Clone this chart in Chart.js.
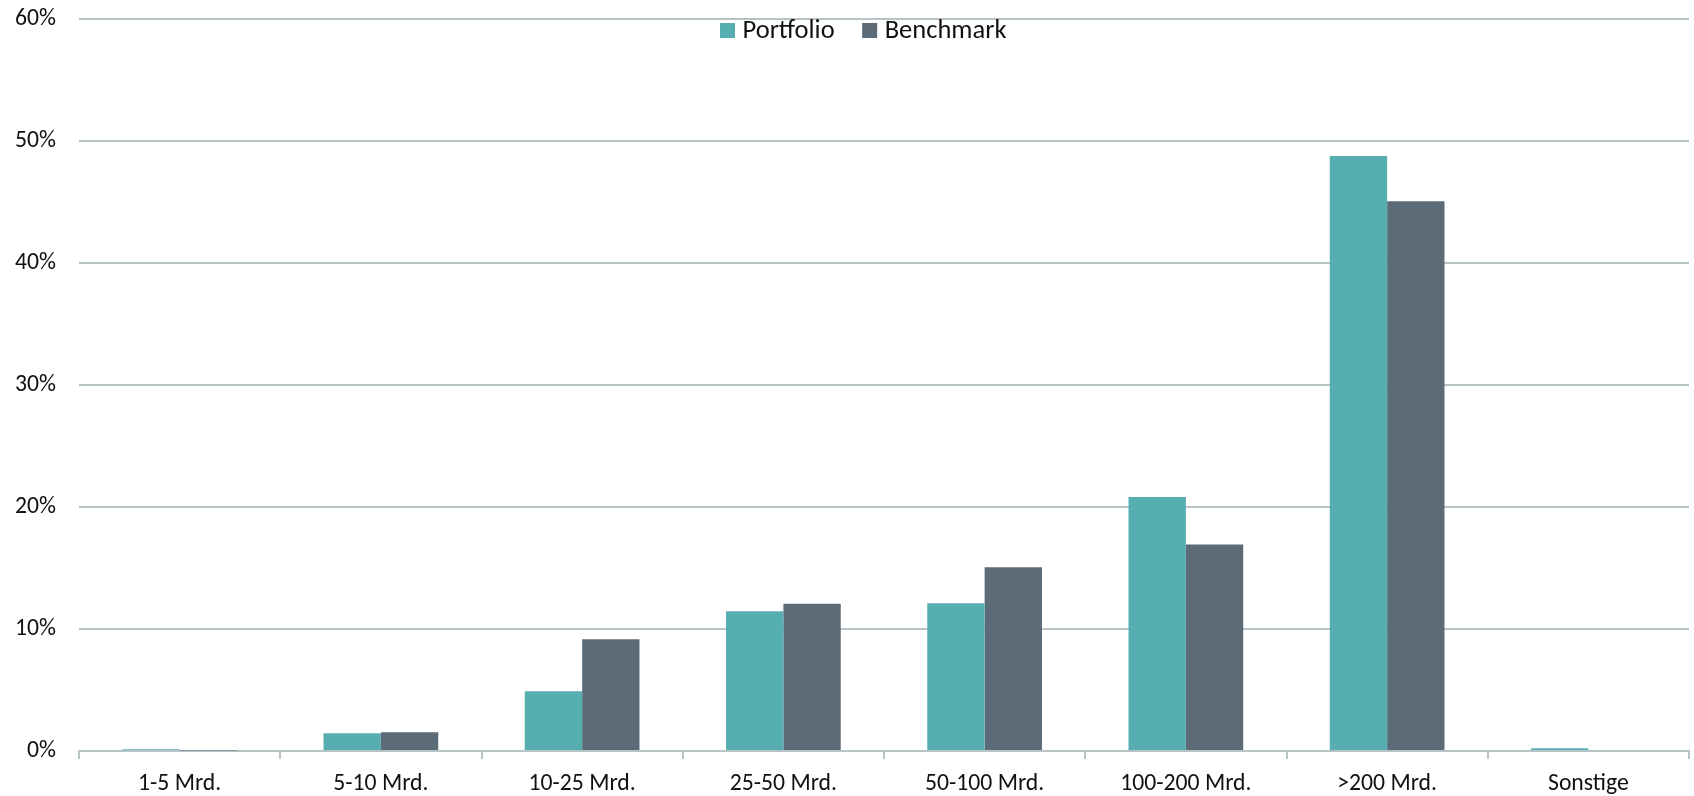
<!DOCTYPE html>
<html lang="de">
<head>
<meta charset="utf-8">
<title>Marktkapitalisierung – Portfolio vs. Benchmark</title>
<script src="https://cdn.jsdelivr.net/npm/chart.js@4/dist/chart.umd.min.js"></script>
<style>
  html, body { margin: 0; padding: 0; background: #ffffff; }
  #wrap { width: 1694px; height: 796px; position: relative; }
</style>
</head>
<body>
<div id="wrap"><canvas id="chart" width="1694" height="796"></canvas></div>
<script>
// Marktkapitalisierungs-Klassen
const categories = ['1-5 Mrd.', '5-10 Mrd.', '10-25 Mrd.', '25-50 Mrd.', '50-100 Mrd.', '100-200 Mrd.', '>200 Mrd.', 'Sonstige'];
// Gewichte in %
const portfolio = [0.14, 1.45, 4.89, 11.45, 12.12, 20.82, 48.77, 0.22];
const benchmark = [0.05, 1.53, 9.15, 12.07, 15.06, 16.93, 45.07, 0.0];
const seriesNames = ['Portfolio', 'Benchmark'];
const yTicks = [0, 10, 20, 30, 40, 50, 60];

const COLORS = ['#57aeb0', '#5b6c78'];
const GRID = '#b8c3c5';
const FONT = 'Carlito, Calibri, Lato, sans-serif';
const TEXT = '#111111';

// Legende oben im Diagrammbereich
const topLegend = {
  id: 'topLegend',
  afterDraw(chart) {
    const ctx = chart.ctx;
    ctx.save();
    ctx.font = '26.5px ' + FONT;
    ctx.textBaseline = 'alphabetic';
    let x = 720;
    chart.data.datasets.forEach((ds) => {
      ctx.fillStyle = ds.backgroundColor;
      ctx.fillRect(x, 23, 15, 15);
      x += 15 + 7.5;
      ctx.fillStyle = TEXT;
      ctx.fillText(ds.label, x, 37.5);
      x += ctx.measureText(ds.label).width + 27.5;
    });
    ctx.restore();
  }
};

new Chart(document.getElementById('chart'), {
  type: 'bar',
  data: {
    labels: categories,
    datasets: [
      { label: seriesNames[0], data: portfolio, backgroundColor: COLORS[0] },
      { label: seriesNames[1], data: benchmark, backgroundColor: COLORS[1] }
    ]
  },
  options: {
    responsive: false,
    animation: false,
    datasets: { bar: { categoryPercentage: 0.57, barPercentage: 1.0 } },
    layout: { padding: { top: 19, right: 5, left: 0, bottom: 0 } },
    plugins: {
      legend: { display: false },
      tooltip: { enabled: false }
    },
    scales: {
      x: {
        grid: {
          display: true,
          drawOnChartArea: false,
          drawTicks: true,
          tickLength: 8,
          color: GRID,
          lineWidth: 2
        },
        border: { display: true, color: GRID, width: 2 },
        ticks: {
          color: TEXT,
          font: { family: FONT, size: 23.7 },
          padding: 11,
          maxRotation: 0,
          autoSkip: false
        },
        afterFit(scale) {
          scale.height = 45;
          scale.paddingLeft = 0;
          scale.paddingRight = 0;
        }
      },
      y: {
        min: 0,
        max: 60,
        afterBuildTicks(scale) { scale.ticks = yTicks.map(v => ({ value: v })); },
        grid: { color: GRID, lineWidth: 2, drawTicks: false },
        border: { display: false },
        ticks: {
          color: TEXT,
          font: { family: FONT, size: 23.7 },
          padding: 23,
          callback: v => v + '%'
        },
        afterFit(scale) {
          scale.width = 79;
          scale.paddingTop = 0;
          scale.paddingBottom = 0;
        }
      }
    }
  },
  plugins: [topLegend]
});
</script>
</body>
</html>
